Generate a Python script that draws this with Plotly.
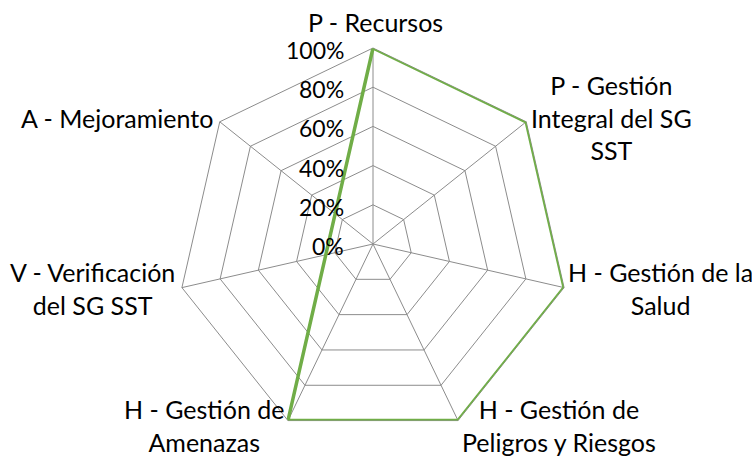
import math
import plotly.graph_objects as go

categories = [
    "P - Recursos",
    "P - Gestión Integral del SG SST",
    "H - Gestión de la Salud",
    "H - Gestión de Peligros y Riesgos",
    "H - Gestión de Amenazas",
    "V - Verificación del SG SST",
    "A - Mejoramiento",
]
category_labels = [
    "P - Recursos",
    "P - Gestión<br>Integral del SG<br>SST",
    "H - Gestión de la<br>Salud",
    "H - Gestión de<br>Peligros y Riesgos",
    "H - Gestión de<br>Amenazas",
    "V - Verificación<br>del SG SST",
    "A - Mejoramiento",
]
values = [100, 100, 100, 100, 100, None, None]
radial_ticks = [0, 20, 40, 60, 80, 100]
radial_labels = ["0%", "20%", "40%", "60%", "80%", "100%"]

W, H = 752, 457
ML, MR, MT, MB = 177, 183, 48, 17
FONT = "Lato"
FS_CAT = 25
FS_TICK = 23
GRID = "#8C8C8C"
RMAX = 100

fig = go.Figure()
fig.add_trace(go.Scatterpolar(
    r=values + [values[0]],
    theta=categories + [categories[0]],
    mode="lines",
    connectgaps=True,
    cliponaxis=False,
    line=dict(color="#70AD47", width=3.5),
    hoverinfo="skip",
))

pw, ph = W - ML - MR, H - MT - MB
R = min(pw, ph) / 2
cx, cy = pw / 2, ph / 2  # within plot area, pixels from bottom-left

annotations = []
# radial tick labels beside the vertical spoke
for v, t in zip(radial_ticks, radial_labels):
    annotations.append(dict(
        x=cx / pw, y=(cy + R * v / RMAX) / ph, xref="paper", yref="paper",
        text=t, showarrow=False, xanchor="right", yanchor="middle",
        xshift=-27, yshift=-2,
        font=dict(family=FONT, size=FS_TICK, color="black"),
    ))

# category labels placed beside each vertex: (xanchor, yanchor, xshift, yshift)
placement = [
    ("center", "bottom", 2, 9),
    ("left", "middle", 3, 4),
    ("left", "middle", 2, -1),
    ("left", "middle", 2, -5),
    ("right", "middle", -2, -5),
    ("right", "middle", -5, -1),
    ("right", "middle", -5, 4),
]
n = len(categories)
for i, (lab, (xa, ya, xs, ys)) in enumerate(zip(category_labels, placement)):
    ang = math.radians(90 - i * 360 / n)
    px = cx + R * math.cos(ang)
    py = cy + R * math.sin(ang)
    annotations.append(dict(
        x=px / pw, y=py / ph, xref="paper", yref="paper",
        text=lab, showarrow=False, xanchor=xa, yanchor=ya,
        xshift=xs, yshift=ys, align="center",
        font=dict(family=FONT, size=FS_CAT, color="black"),
    ))

fig.update_layout(
    width=W, height=H,
    paper_bgcolor="white",
    showlegend=False,
    margin=dict(l=ML, r=MR, t=MT, b=MB),
    font=dict(family=FONT, size=FS_CAT, color="black"),
    annotations=annotations,
    polar=dict(
        bgcolor="white",
        gridshape="linear",
        angularaxis=dict(
            direction="clockwise",
            rotation=90,
            categoryorder="array",
            categoryarray=categories,
            gridcolor=GRID,
            gridwidth=1,
            linecolor=GRID,
            linewidth=1,
            showline=True,
            ticks="",
            showticklabels=False,
            layer="below traces",
        ),
        radialaxis=dict(
            range=[0, RMAX],
            tickvals=radial_ticks,
            angle=90,
            showline=False,
            showticklabels=False,
            gridcolor=GRID,
            gridwidth=1,
            ticks="",
            layer="below traces",
        ),
    ),
)

fig.write_html(
    "out.html",
    config={"displayModeBar": False},
    post_script="document.body.style.margin='0';document.body.style.padding='0';",
)
